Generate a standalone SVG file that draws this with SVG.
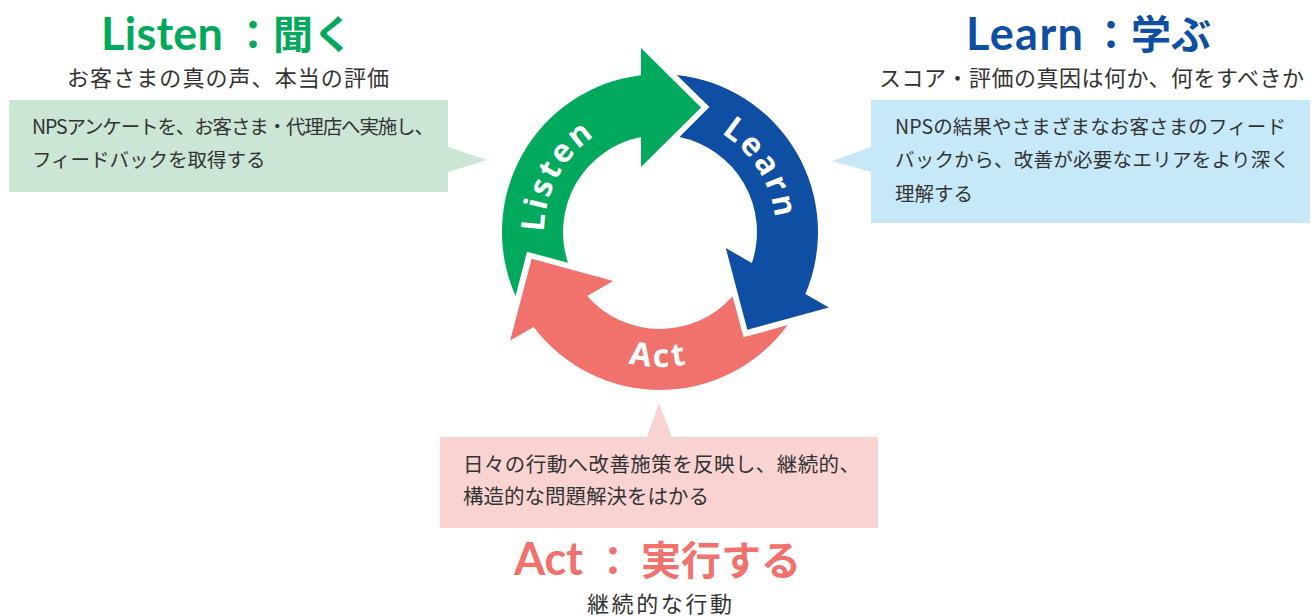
<svg xmlns="http://www.w3.org/2000/svg" width="1316" height="616" viewBox="0 0 1316 616">
<style>
.hl{font-family:Lato,"Open Sans","Noto Sans CJK JP",sans-serif;font-weight:700;font-size:45px}
.hj{font-family:"Noto Sans CJK JP",sans-serif;font-weight:700;font-size:40px}
.sub{font-family:"Noto Sans CJK JP",sans-serif;font-size:22px;fill:#333}
.body{font-family:"Noto Sans CJK JP",sans-serif;font-size:19.5px;fill:#333}
.body2{font-family:"Noto Sans CJK JP",sans-serif;font-size:20.5px;fill:#333}
.lbl{font-family:"Open Sans",sans-serif;font-weight:700;font-size:32px;fill:#fff;letter-spacing:3px}
.green{fill:#00a95c}.blue{fill:#0f4fa3}.red{fill:#f1726c}
</style>
<defs>
<path id="arrow" d="M515.55,296 A158,158 0 0 1 641,75.15 L641,48 L701,107.5 L641,167 L641,136.9 A97,97 0 0 0 568,262.7 L527,251.7 Z"/>
<path id="pListen" d="M587.8,322.8 A116,116 0 0 1 696.8,122.0"/>
<path id="pLearn" d="M616.5,124.4 A116,116 0 0 1 737.6,318.2"/>
<path id="pAct" d="M526.8,254.3 A135,135 0 0 0 792.7,256.6"/>
</defs>

<g id="connectors">
<use href="#arrow" class="green"/>
<use href="#arrow" class="blue" transform="rotate(120 660 232)"/>
<use href="#arrow" class="red" transform="rotate(240 660 232)"/>
<text class="lbl" text-anchor="middle"><textPath href="#pListen" startOffset="50%">Listen</textPath></text>
<text class="lbl" text-anchor="middle"><textPath href="#pLearn" startOffset="50%">Learn</textPath></text>
<text class="lbl" text-anchor="middle"><textPath href="#pAct" startOffset="50%">Act</textPath></text>
</g>

<g id="node-listen">
<text class="green" y="50"><tspan class="hl" x="101" textLength="122">Listen</tspan><tspan class="hj" x="233" y="49">：聞く</tspan></text>
<text class="sub" x="67" y="86" textLength="322">お客さまの真の声、本当の評価</text>
<path d="M9,100 H448 V147 L487,160 L448,172 V192 H9 Z" fill="#cbe6d5"/>
<text class="body" x="32" y="134" textLength="402">NPSアンケートを、お客さま・代理店へ実施し、</text>
<text class="body" x="32" y="167">フィードバックを取得する</text>
</g>

<g id="node-learn">
<text class="blue" y="50"><tspan class="hl" x="966" textLength="117">Learn</tspan><tspan class="hj" x="1091" y="49">：学ぶ</tspan></text>
<text class="sub" x="879" y="86" textLength="425">スコア・評価の真因は何か、何をすべきか</text>
<path d="M871,100 H1310 V223 H871 V172 L832,161 L871,147 Z" fill="#c7e8f8"/>
<text class="body" x="895" y="134" textLength="391">NPSの結果やさまざまなお客さまのフィード</text>
<text class="body" x="895" y="167" textLength="395">バックから、改善が必要なエリアをより深く</text>
<text class="body" x="895" y="201">理解する</text>
</g>

<g id="node-act">
<path d="M440,437 H647 L659,403 L672,437 H878 V528 H440 Z" fill="#f9d3d2"/>
<text class="body2" x="463" y="472" textLength="397">日々の行動へ改善施策を反映し、継続的、</text>
<text class="body2" x="463" y="504">構造的な問題解決をはかる</text>
<text class="red" y="575"><tspan class="hl" x="514" textLength="69">Act</tspan><tspan class="hj" x="593">：</tspan><tspan class="hj" x="641">実行する</tspan></text>
<text class="sub" x="587" y="612" textLength="145">継続的な行動</text>
</g>
</svg>
